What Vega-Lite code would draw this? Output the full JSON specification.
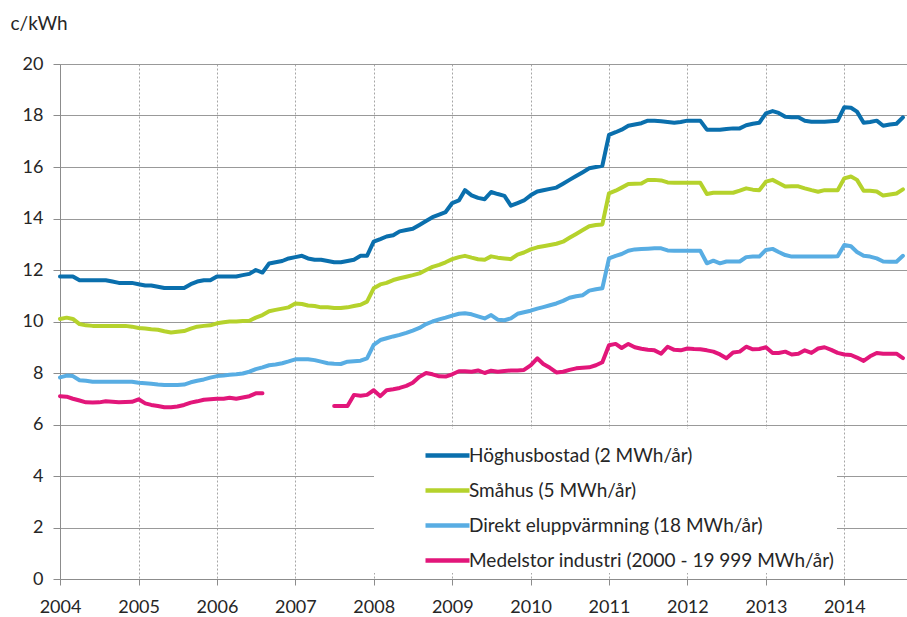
{
 "$schema": "https://vega.github.io/schema/vega-lite/v6.json",
 "width": 847, "height": 515,
 "autosize": {"type": "none"},
 "padding": {"left": 60, "top": 64, "right": 0, "bottom": 38},
 "background": "white",
 "config": {"view": {"stroke": null}, "font": "Lato"},
 "data": {"values": [
 {"date":"2004-01-01","h":11.75,"s":10.1,"e":7.83,"m":7.1},
 {"date":"2004-02-01","h":11.75,"s":10.15,"e":7.9,"m":7.08},
 {"date":"2004-03-01","h":11.75,"s":10.1,"e":7.88,"m":7.0},
 {"date":"2004-04-01","h":11.6,"s":9.9,"e":7.72,"m":6.93},
 {"date":"2004-05-01","h":11.6,"s":9.85,"e":7.7,"m":6.86},
 {"date":"2004-06-01","h":11.6,"s":9.83,"e":7.66,"m":6.85},
 {"date":"2004-07-01","h":11.6,"s":9.83,"e":7.66,"m":6.86},
 {"date":"2004-08-01","h":11.6,"s":9.83,"e":7.66,"m":6.9},
 {"date":"2004-09-01","h":11.55,"s":9.83,"e":7.66,"m":6.88},
 {"date":"2004-10-01","h":11.5,"s":9.83,"e":7.66,"m":6.86},
 {"date":"2004-11-01","h":11.5,"s":9.83,"e":7.66,"m":6.87},
 {"date":"2004-12-01","h":11.5,"s":9.8,"e":7.66,"m":6.88},
 {"date":"2005-01-01","h":11.45,"s":9.75,"e":7.62,"m":6.98},
 {"date":"2005-02-01","h":11.4,"s":9.73,"e":7.6,"m":6.82},
 {"date":"2005-03-01","h":11.4,"s":9.7,"e":7.58,"m":6.76},
 {"date":"2005-04-01","h":11.35,"s":9.68,"e":7.55,"m":6.72},
 {"date":"2005-05-01","h":11.3,"s":9.62,"e":7.53,"m":6.67},
 {"date":"2005-06-01","h":11.3,"s":9.57,"e":7.53,"m":6.67},
 {"date":"2005-07-01","h":11.3,"s":9.6,"e":7.53,"m":6.7},
 {"date":"2005-08-01","h":11.3,"s":9.63,"e":7.55,"m":6.76},
 {"date":"2005-09-01","h":11.45,"s":9.72,"e":7.64,"m":6.85},
 {"date":"2005-10-01","h":11.55,"s":9.8,"e":7.7,"m":6.9},
 {"date":"2005-11-01","h":11.6,"s":9.83,"e":7.75,"m":6.96},
 {"date":"2005-12-01","h":11.6,"s":9.85,"e":7.82,"m":6.98},
 {"date":"2006-01-01","h":11.75,"s":9.93,"e":7.88,"m":7.0},
 {"date":"2006-02-01","h":11.75,"s":9.97,"e":7.9,"m":7.0},
 {"date":"2006-03-01","h":11.75,"s":10.0,"e":7.93,"m":7.04},
 {"date":"2006-04-01","h":11.75,"s":10.0,"e":7.95,"m":7.0},
 {"date":"2006-05-01","h":11.8,"s":10.02,"e":7.98,"m":7.05},
 {"date":"2006-06-01","h":11.85,"s":10.03,"e":8.05,"m":7.1},
 {"date":"2006-07-01","h":12.0,"s":10.15,"e":8.15,"m":7.21},
 {"date":"2006-08-01","h":11.9,"s":10.25,"e":8.22,"m":7.21},
 {"date":"2006-09-01","h":12.25,"s":10.4,"e":8.3,"m":null},
 {"date":"2006-10-01","h":12.3,"s":10.45,"e":8.33,"m":null},
 {"date":"2006-11-01","h":12.35,"s":10.5,"e":8.38,"m":null},
 {"date":"2006-12-01","h":12.45,"s":10.55,"e":8.45,"m":null},
 {"date":"2007-01-01","h":12.5,"s":10.7,"e":8.53,"m":null},
 {"date":"2007-02-01","h":12.55,"s":10.68,"e":8.53,"m":null},
 {"date":"2007-03-01","h":12.45,"s":10.62,"e":8.53,"m":null},
 {"date":"2007-04-01","h":12.4,"s":10.6,"e":8.5,"m":null},
 {"date":"2007-05-01","h":12.4,"s":10.55,"e":8.44,"m":null},
 {"date":"2007-06-01","h":12.35,"s":10.55,"e":8.38,"m":null},
 {"date":"2007-07-01","h":12.3,"s":10.52,"e":8.36,"m":6.72},
 {"date":"2007-08-01","h":12.3,"s":10.52,"e":8.35,"m":6.72},
 {"date":"2007-09-01","h":12.35,"s":10.55,"e":8.44,"m":6.72},
 {"date":"2007-10-01","h":12.4,"s":10.6,"e":8.46,"m":7.15},
 {"date":"2007-11-01","h":12.55,"s":10.65,"e":8.48,"m":7.12},
 {"date":"2007-12-01","h":12.55,"s":10.77,"e":8.57,"m":7.15},
 {"date":"2008-01-01","h":13.1,"s":11.29,"e":9.09,"m":7.33},
 {"date":"2008-02-01","h":13.2,"s":11.44,"e":9.28,"m":7.1},
 {"date":"2008-03-01","h":13.3,"s":11.5,"e":9.35,"m":7.33},
 {"date":"2008-04-01","h":13.35,"s":11.61,"e":9.42,"m":7.37},
 {"date":"2008-05-01","h":13.5,"s":11.68,"e":9.48,"m":7.42},
 {"date":"2008-06-01","h":13.55,"s":11.74,"e":9.56,"m":7.5},
 {"date":"2008-07-01","h":13.6,"s":11.8,"e":9.65,"m":7.62},
 {"date":"2008-08-01","h":13.75,"s":11.87,"e":9.75,"m":7.85},
 {"date":"2008-09-01","h":13.9,"s":12.0,"e":9.9,"m":8.0},
 {"date":"2008-10-01","h":14.05,"s":12.12,"e":10.0,"m":7.95},
 {"date":"2008-11-01","h":14.15,"s":12.2,"e":10.08,"m":7.87},
 {"date":"2008-12-01","h":14.25,"s":12.3,"e":10.15,"m":7.86},
 {"date":"2009-01-01","h":14.6,"s":12.42,"e":10.23,"m":7.95},
 {"date":"2009-02-01","h":14.7,"s":12.5,"e":10.3,"m":8.07},
 {"date":"2009-03-01","h":15.1,"s":12.55,"e":10.32,"m":8.07},
 {"date":"2009-04-01","h":14.9,"s":12.48,"e":10.28,"m":8.05},
 {"date":"2009-05-01","h":14.8,"s":12.42,"e":10.2,"m":8.1},
 {"date":"2009-06-01","h":14.75,"s":12.4,"e":10.12,"m":8.0},
 {"date":"2009-07-01","h":15.03,"s":12.53,"e":10.25,"m":8.09},
 {"date":"2009-08-01","h":14.95,"s":12.48,"e":10.07,"m":8.05},
 {"date":"2009-09-01","h":14.88,"s":12.45,"e":10.05,"m":8.08},
 {"date":"2009-10-01","h":14.5,"s":12.42,"e":10.12,"m":8.1},
 {"date":"2009-11-01","h":14.6,"s":12.6,"e":10.3,"m":8.1},
 {"date":"2009-12-01","h":14.7,"s":12.68,"e":10.36,"m":8.12},
 {"date":"2010-01-01","h":14.9,"s":12.8,"e":10.42,"m":8.3},
 {"date":"2010-02-01","h":15.05,"s":12.88,"e":10.5,"m":8.57},
 {"date":"2010-03-01","h":15.1,"s":12.92,"e":10.56,"m":8.35},
 {"date":"2010-04-01","h":15.15,"s":12.97,"e":10.63,"m":8.2},
 {"date":"2010-05-01","h":15.2,"s":13.02,"e":10.7,"m":8.02},
 {"date":"2010-06-01","h":15.35,"s":13.1,"e":10.8,"m":8.05},
 {"date":"2010-07-01","h":15.5,"s":13.25,"e":10.92,"m":8.12},
 {"date":"2010-08-01","h":15.65,"s":13.4,"e":10.98,"m":8.18},
 {"date":"2010-09-01","h":15.8,"s":13.55,"e":11.02,"m":8.2},
 {"date":"2010-10-01","h":15.95,"s":13.7,"e":11.2,"m":8.22},
 {"date":"2010-11-01","h":16.0,"s":13.75,"e":11.25,"m":8.3},
 {"date":"2010-12-01","h":16.05,"s":13.77,"e":11.29,"m":8.42},
 {"date":"2011-01-01","h":17.25,"s":14.98,"e":12.45,"m":9.08},
 {"date":"2011-02-01","h":17.35,"s":15.08,"e":12.55,"m":9.13},
 {"date":"2011-03-01","h":17.45,"s":15.2,"e":12.62,"m":8.97},
 {"date":"2011-04-01","h":17.6,"s":15.34,"e":12.75,"m":9.13},
 {"date":"2011-05-01","h":17.65,"s":15.35,"e":12.8,"m":9.0},
 {"date":"2011-06-01","h":17.7,"s":15.36,"e":12.82,"m":8.94},
 {"date":"2011-07-01","h":17.8,"s":15.5,"e":12.83,"m":8.9},
 {"date":"2011-08-01","h":17.8,"s":15.5,"e":12.84,"m":8.88},
 {"date":"2011-09-01","h":17.78,"s":15.48,"e":12.84,"m":8.75},
 {"date":"2011-10-01","h":17.75,"s":15.4,"e":12.76,"m":9.02},
 {"date":"2011-11-01","h":17.72,"s":15.39,"e":12.75,"m":8.9},
 {"date":"2011-12-01","h":17.75,"s":15.39,"e":12.75,"m":8.88},
 {"date":"2012-01-01","h":17.8,"s":15.39,"e":12.75,"m":8.95},
 {"date":"2012-02-01","h":17.8,"s":15.39,"e":12.75,"m":8.93},
 {"date":"2012-03-01","h":17.8,"s":15.39,"e":12.75,"m":8.92},
 {"date":"2012-04-01","h":17.45,"s":14.95,"e":12.26,"m":8.88},
 {"date":"2012-05-01","h":17.45,"s":15.0,"e":12.36,"m":8.83},
 {"date":"2012-06-01","h":17.45,"s":15.0,"e":12.26,"m":8.72},
 {"date":"2012-07-01","h":17.48,"s":15.0,"e":12.33,"m":8.57},
 {"date":"2012-08-01","h":17.5,"s":15.0,"e":12.33,"m":8.8},
 {"date":"2012-09-01","h":17.5,"s":15.08,"e":12.33,"m":8.83},
 {"date":"2012-10-01","h":17.62,"s":15.17,"e":12.5,"m":9.02},
 {"date":"2012-11-01","h":17.68,"s":15.12,"e":12.52,"m":8.92},
 {"date":"2012-12-01","h":17.72,"s":15.1,"e":12.52,"m":8.93},
 {"date":"2013-01-01","h":18.08,"s":15.43,"e":12.78,"m":9.0},
 {"date":"2013-02-01","h":18.17,"s":15.5,"e":12.82,"m":8.78},
 {"date":"2013-03-01","h":18.1,"s":15.38,"e":12.7,"m":8.78},
 {"date":"2013-04-01","h":17.95,"s":15.24,"e":12.58,"m":8.83},
 {"date":"2013-05-01","h":17.93,"s":15.25,"e":12.52,"m":8.72},
 {"date":"2013-06-01","h":17.93,"s":15.25,"e":12.52,"m":8.75},
 {"date":"2013-07-01","h":17.8,"s":15.17,"e":12.52,"m":8.88},
 {"date":"2013-08-01","h":17.76,"s":15.1,"e":12.52,"m":8.78},
 {"date":"2013-09-01","h":17.76,"s":15.04,"e":12.52,"m":8.95},
 {"date":"2013-10-01","h":17.76,"s":15.1,"e":12.52,"m":9.0},
 {"date":"2013-11-01","h":17.78,"s":15.1,"e":12.52,"m":8.9},
 {"date":"2013-12-01","h":17.8,"s":15.1,"e":12.53,"m":8.78},
 {"date":"2014-01-01","h":18.32,"s":15.56,"e":12.97,"m":8.72},
 {"date":"2014-02-01","h":18.3,"s":15.63,"e":12.92,"m":8.7},
 {"date":"2014-03-01","h":18.15,"s":15.5,"e":12.7,"m":8.6},
 {"date":"2014-04-01","h":17.72,"s":15.08,"e":12.55,"m":8.47},
 {"date":"2014-05-01","h":17.75,"s":15.08,"e":12.52,"m":8.65},
 {"date":"2014-06-01","h":17.8,"s":15.05,"e":12.45,"m":8.78},
 {"date":"2014-07-01","h":17.6,"s":14.89,"e":12.33,"m":8.75},
 {"date":"2014-08-01","h":17.65,"s":14.93,"e":12.32,"m":8.75},
 {"date":"2014-09-01","h":17.68,"s":14.97,"e":12.32,"m":8.75},
 {"date":"2014-10-01","h":17.93,"s":15.13,"e":12.55,"m":8.58}
 ]},
 "transform": [{"fold": ["h", "s", "e", "m"], "as": ["series", "value"]}],
 "mark": {"type": "line", "strokeWidth": 4, "strokeJoin": "round", "strokeCap": "round", "invalid": "break-paths-show-domains"},
 "encoding": {
  "x": {
   "field": "date", "type": "temporal",
   "scale": {"type": "utc", "domain": [{"year": 2004, "month": 1, "date": 1, "utc": true}, {"year": 2014, "month": 10, "date": 20, "utc": true}]},
   "axis": {
    "title": null,
    "values": [{"year": 2004, "utc": true}, {"year": 2005, "utc": true}, {"year": 2006, "utc": true}, {"year": 2007, "utc": true}, {"year": 2008, "utc": true}, {"year": 2009, "utc": true}, {"year": 2010, "utc": true}, {"year": 2011, "utc": true}, {"year": 2012, "utc": true}, {"year": 2013, "utc": true}, {"year": 2014, "utc": true}],
    "labelExpr": "utcFormat(datum.value, '%Y')",
    "grid": true, "gridColor": "#a6a6a6", "gridDash": [2, 2], "gridWidth": 1,
    "domainColor": "#8c8c8c", "tickColor": "#8c8c8c", "tickSize": 6,
    "labelFontSize": 18, "labelColor": "#262626", "labelPadding": 13,
    "labelFlush": false, "labelOverlap": false
   }
  },
  "y": {
   "field": "value", "type": "quantitative",
   "scale": {"domain": [0, 20], "nice": false, "zero": true},
   "axis": {
    "title": "c/kWh", "titleAngle": 0, "titleAlign": "left", "titleBaseline": "middle",
    "titleX": -50, "titleY": -41, "titleFontWeight": "normal", "titleFontSize": 19, "titleColor": "#262626",
    "values": [0, 2, 4, 6, 8, 10, 12, 14, 16, 18, 20],
    "grid": true, "gridColor": "#999999", "gridWidth": 1,
    "domainColor": "#8c8c8c", "tickColor": "#8c8c8c", "tickSize": 7,
    "labelFontSize": 18, "labelColor": "#262626", "labelPadding": 10
   }
  },
  "color": {
   "field": "series", "type": "nominal",
   "scale": {"domain": ["h", "s", "e", "m"], "range": ["#0a6fad", "#b5d22c", "#58ade3", "#e2167a"]},
   "legend": {
    "title": null, "orient": "none", "legendX": 314, "legendY": 365,
    "fillColor": "white", "padding": 2, "symbolOffset": 47,
    "symbolType": "stroke", "symbolStrokeWidth": 4.5, "symbolSize": 1936,
    "labelFontSize": 19, "labelColor": "#262626", "labelOffset": -3, "labelLimit": 600, "rowPadding": 0,
    "labelExpr": "datum.value == 'h' ? 'Höghusbostad (2 MWh/år)' : datum.value == 's' ? 'Småhus (5 MWh/år)' : datum.value == 'e' ? 'Direkt eluppvärmning (18 MWh/år)' : 'Medelstor industri (2000 - 19 999 MWh/år)'"
   }
  }
 }
}
